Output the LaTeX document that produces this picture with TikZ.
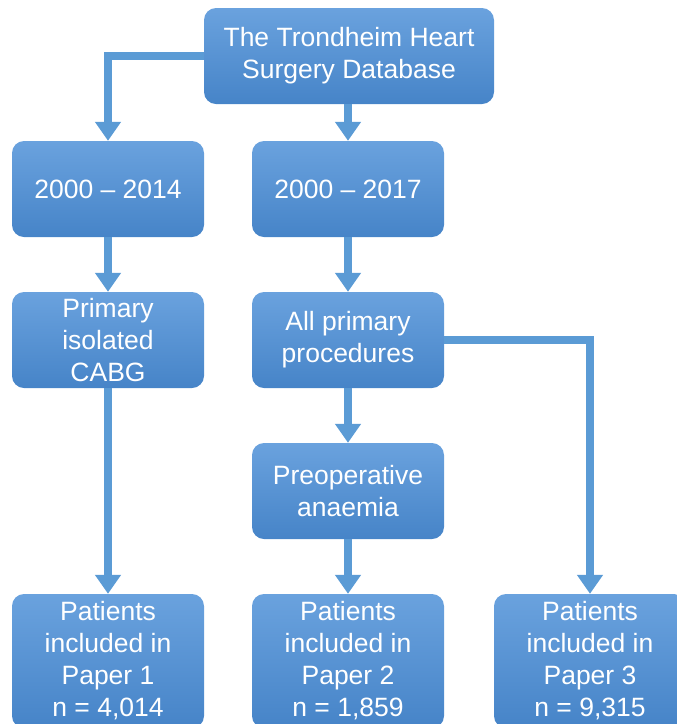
\documentclass[tikz,border=0pt]{standalone}
\usepackage{fontspec}
\setmainfont{Liberation Sans}
\usetikzlibrary{arrows.meta}
\definecolor{boxtop}{RGB}{106,162,222}
\definecolor{boxbot}{RGB}{70,132,200}
\definecolor{linec}{RGB}{91,155,213}
\tikzset{
  box/.style={rounded corners=12pt, top color=boxtop, bottom color=boxbot, draw=none,
    text=white, align=center, minimum width=192pt, minimum height=96pt, inner sep=0pt,
    font=\fontsize{26.5}{32}\selectfont},
  conn/.style={draw=linec, line width=7.5pt, -{Triangle[width=25pt,length=19pt]}}
}
\begin{document}
\begin{tikzpicture}[x=1pt,y=-1pt]
\useasboundingbox (0,0) rectangle (677,724);
\clip (0,0) rectangle (677,724);
\node[box, minimum width=290pt] (top) at (349,56) {The Trondheim Heart\\Surgery Database};
\node[box] (a1) at (108,189) {2000 -- 2014};
\node[box] (b1) at (348,189) {2000 -- 2017};
\node[box] (a2) at (108,340) {Primary\\isolated\\CABG};
\node[box] (b2) at (348,340) {All primary\\procedures};
\node[box] (b3) at (348,491) {Preoperative\\anaemia};
\node[box, minimum height=134pt] (p1) at (108,661) {Patients\\included in\\Paper 1\\n = 4,014};
\node[box, minimum height=134pt] (p2) at (348,661) {Patients\\included in\\Paper 2\\n = 1,859};
\node[box, minimum height=134pt] (p3) at (590,661) {Patients\\included in\\Paper 3\\n = 9,315};
\draw[conn] (top.west) -| (a1.north);
\draw[conn] (top.south -| b1.north) -- (b1.north);
\draw[conn] (a1) -- (a2);
\draw[conn] (b1) -- (b2);
\draw[conn] (a2) -- (p1);
\draw[conn] (b2) -- (b3);
\draw[conn] (b3) -- (p2);
\draw[conn] (b2.east) -| (p3.north);
\end{tikzpicture}
\end{document}
